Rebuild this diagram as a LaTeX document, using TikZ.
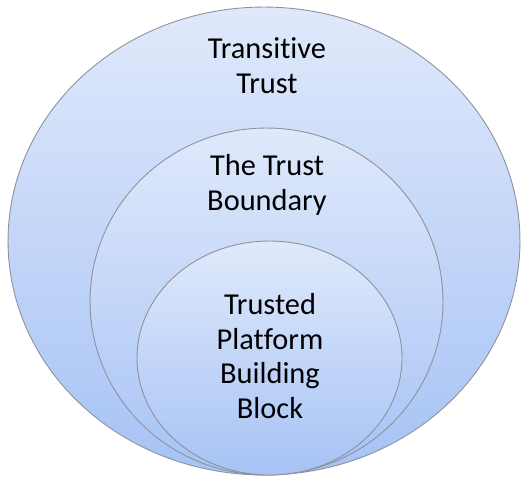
\documentclass[tikz,border=0pt]{standalone}
\usepackage{fontspec}
\setmainfont{Carlito}[Ligatures={NoCommon}]
\usetikzlibrary{shapes.geometric, positioning}

\definecolor{ringtop}{HTML}{E0E9FB}
\definecolor{ringbottom}{HTML}{A6C3F5}
\definecolor{ringline}{HTML}{8E909C}

\begin{document}
\begin{tikzpicture}[
        x=0.02cm, y=-0.02cm,
        ring/.style={ellipse, draw=ringline, line width=0.5pt, top color=ringtop, bottom color=ringbottom, inner sep=0pt},
        label/.style={align=center, inner sep=0pt, font=\fontsize{17.3}{19.8}\selectfont}
        ]

        \useasboundingbox (0,0) rectangle (521,477);

        % three rings, all touching at the bottom
        \node (outer) [ring, minimum width=10.24cm, minimum height=9.36cm] at (264,241) {};
        \node (middle) [ring, minimum width=7.06cm, minimum height=6.94cm] at (266.5,301.5) {};
        \node (inner) [ring, minimum width=5.3cm, minimum height=4.68cm] at (269.5,358) {};

        \node (transitive) [label] at (267,65.5) {Transitive\\Trust};
        \node (boundary) [label] at (267,184.5) {The Trust\\Boundary};
        \node (tbb) [label] at (270,356) {Trusted\\Platform\\Building\\Block};

    \end{tikzpicture}
\end{document}
